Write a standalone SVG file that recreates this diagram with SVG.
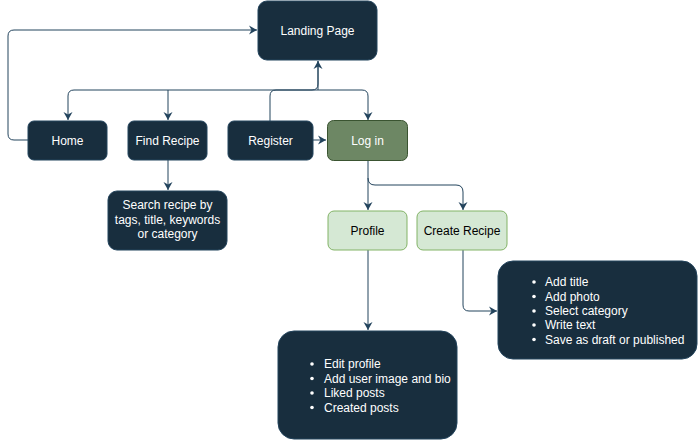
<svg xmlns="http://www.w3.org/2000/svg" width="698" height="441" viewBox="0 0 698 441">
<defs>
<marker id="arr" markerWidth="10" markerHeight="10" refX="8" refY="5" orient="auto" markerUnits="userSpaceOnUse">
<path d="M0,0.5 L8,5 L0,9.5 L2.5,5 Z" fill="#23445D"/>
</marker>
<style>
.dark{fill:#182E3E;stroke:#23445D;stroke-width:1}
.green{fill:#d5e8d4;stroke:#82b366;stroke-width:1}
.olive{fill:#6d8764;stroke:#3A5431;stroke-width:1}
.wt{fill:#ffffff;font-family:"Liberation Sans",Arial,sans-serif;font-size:12px}
.bt{fill:#000000;font-family:"Liberation Sans",Arial,sans-serif;font-size:12px}
.c{text-anchor:middle}
.edge{fill:none;stroke:#23445D;stroke-width:1;marker-end:url(#arr)}
.line{fill:none;stroke:#23445D;stroke-width:1}
</style>
</defs>
<rect width="698" height="441" fill="#ffffff"/>
<g id="connectors">
<path class="edge" d="M28,140 L14,140 Q8,140 8,134 L8,36 Q8,30 14,30 L257,30"/>
<path class="edge" d="M270,121 L270,96 Q270,90 276,90 L312,90 Q318,90 318,84 L318,61"/>
<path class="edge" d="M318,61 L318,90 L74,90 Q68,90 68,96 L68,120"/>
<path class="edge" d="M168,90 L168,120"/>
<path class="edge" d="M318,90 L362,90 Q368,90 368,96 L368,120"/>
<path class="edge" d="M313,140 L326,140"/>
<path class="edge" d="M168,160 L168,190"/>
<path class="edge" d="M368,161 L368,210"/>
<path class="edge" d="M368,178 Q368,185 375,185 L456,185 Q463,185 463,192 L463,210"/>
<path class="edge" d="M368,250 L368,330"/>
<path class="edge" d="M463,250 L463,305 Q463,311 469,311 L497,311"/>
</g>
<g id="landing">
<rect class="dark" x="258" y="1" width="119" height="59" rx="9"/>
<text class="wt c" x="317.5" y="34.5">Landing Page</text>
</g>
<g id="home">
<rect class="dark" x="28" y="121" width="79" height="39" rx="6"/>
<text class="wt c" x="67.5" y="144.5">Home</text>
</g>
<g id="find-recipe">
<rect class="dark" x="128" y="121" width="79" height="39" rx="6"/>
<text class="wt c" x="167.5" y="144.5">Find Recipe</text>
</g>
<g id="register">
<rect class="dark" x="228" y="121" width="85" height="39" rx="6"/>
<text class="wt c" x="270.5" y="144.5">Register</text>
</g>
<g id="login">
<rect class="olive" x="327.5" y="120.5" width="80" height="40" rx="6"/>
<text class="wt c" x="367.5" y="144.5">Log in</text>
</g>
<g id="search">
<rect class="dark" x="108" y="191" width="119" height="59" rx="9"/>
<text class="wt c" x="167.5" y="209">Search recipe by</text>
<text class="wt c" x="167.5" y="224">tags, title, keywords</text>
<text class="wt c" x="167.5" y="238">or category</text>
</g>
<g id="profile">
<rect class="green" x="328" y="211" width="79" height="39" rx="6"/>
<text class="bt c" x="367.5" y="234.5">Profile</text>
</g>
<g id="create-recipe">
<rect class="green" x="417" y="211" width="90" height="39" rx="6"/>
<text class="bt c" x="462" y="234.5">Create Recipe</text>
</g>
<g id="profile-details">
<rect class="dark" x="278" y="331" width="179" height="108" rx="16"/>
<g class="wt">
<circle cx="312" cy="364" r="1.8" fill="#fff"/>
<circle cx="312" cy="378.5" r="1.8" fill="#fff"/>
<circle cx="312" cy="393" r="1.8" fill="#fff"/>
<circle cx="312" cy="407.5" r="1.8" fill="#fff"/>
<text x="324" y="368">Edit profile</text>
<text x="324" y="382.5">Add user image and bio</text>
<text x="324" y="397">Liked posts</text>
<text x="324" y="411.5">Created posts</text>
</g>
</g>
<g id="create-details">
<rect class="dark" x="498" y="261" width="199" height="98" rx="15"/>
<g class="wt">
<circle cx="534" cy="282" r="1.8" fill="#fff"/>
<circle cx="534" cy="296.5" r="1.8" fill="#fff"/>
<circle cx="534" cy="311" r="1.8" fill="#fff"/>
<circle cx="534" cy="325" r="1.8" fill="#fff"/>
<circle cx="534" cy="339.5" r="1.8" fill="#fff"/>
<text x="545" y="286">Add title</text>
<text x="545" y="300.5">Add photo</text>
<text x="545" y="315">Select category</text>
<text x="545" y="329">Write text</text>
<text x="545" y="343.5">Save as draft or published</text>
</g>
</g>
</svg>
